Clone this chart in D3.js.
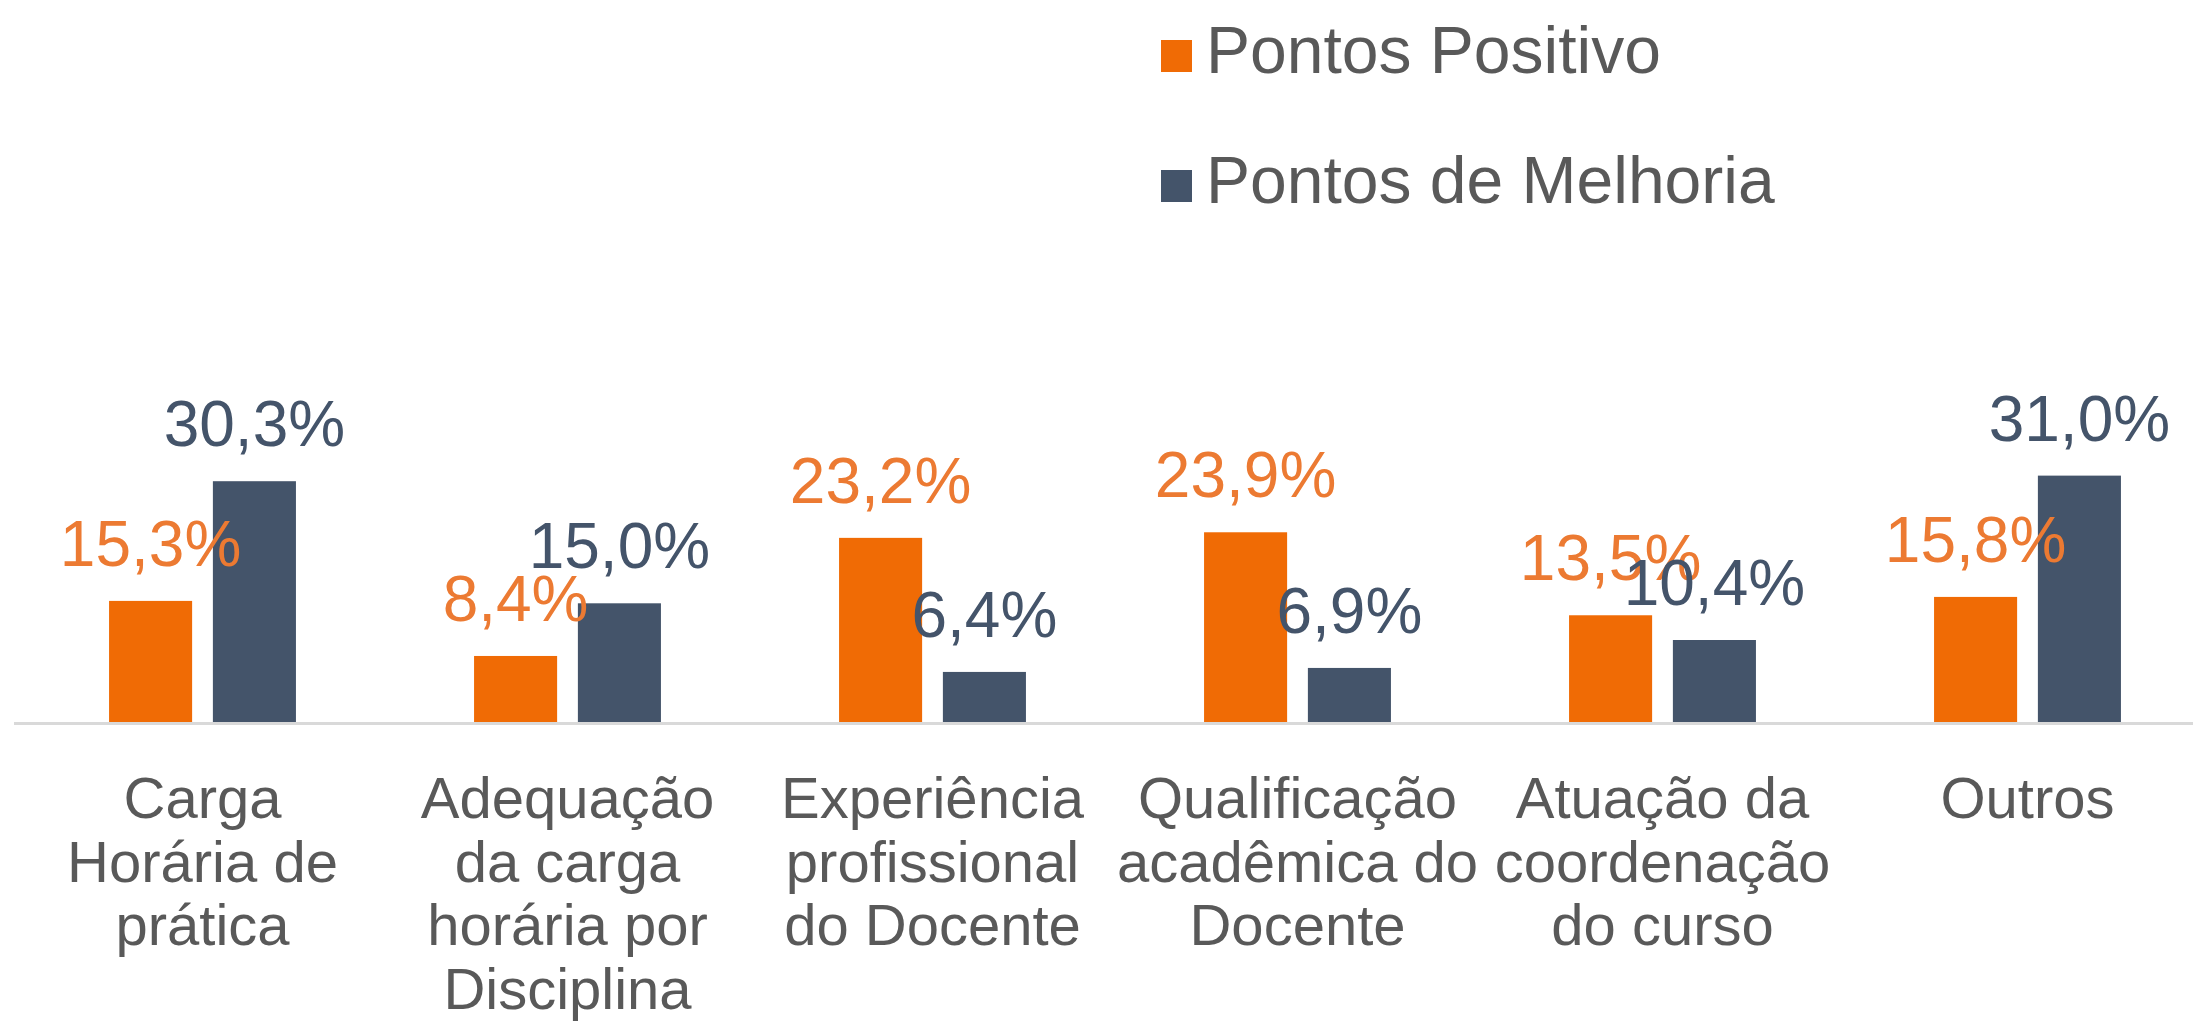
<!DOCTYPE html>
<html>
<head>
<meta charset="utf-8">
<script src="https://cdn.jsdelivr.net/npm/d3@7"></script>
<style>
  body { margin: 0; background: #fff; }
  svg { display: block; font-family: 'Liberation Sans', Arial, sans-serif; }
</style>
</head>
<body>
<svg></svg>
<script>
let SVG = d3.select('svg').attr('width', 2193).attr('height', 1023);

SVG.style('background-color', '#ffffff');

// ---

const CATEGORIES = ['carga', 'adequacao', 'experiencia', 'qualificacao', 'atuacao', 'outros'];
const CATEGORY_LINES = [
  ['Carga', 'Horária de', 'prática'],
  ['Adequação', 'da carga', 'horária por', 'Disciplina'],
  ['Experiência', 'profissional', 'do Docente'],
  ['Qualificação', 'acadêmica do', 'Docente'],
  ['Atuação da', 'coordenação', 'do curso'],
  ['Outros']
];
const SERIES = ['Pontos Positivo', 'Pontos de Melhoria'];
const POSITIVO = [15.3, 8.4, 23.2, 23.9, 13.5, 15.8];
const MELHORIA = [30.3, 15.0, 6.4, 6.9, 10.4, 31.0];

const BAR_COLORS = ['#f06b05', '#44546a'];
const LABEL_COLORS = ['#ec7a32', '#44546a'];

const BASE_Y = 723;

// scales
let x0 = d3
  .scaleBand()
  .domain(CATEGORIES)
  .range([20, 2210])
  .paddingInner(0.488)
  .paddingOuter(0.244);

let x1 = d3
  .scaleBand()
  .domain([0, 1])
  .range([0, x0.bandwidth()])
  .paddingInner(0.2);

let y = d3
  .scaleLinear()
  .domain([0, 35])
  .range([BASE_Y, BASE_Y - 35 * 7.98]);

let rows = CATEGORIES.map((c, i) => ({ cat: c, values: [POSITIVO[i], MELHORIA[i]] }));

// bars
let groups = SVG.append('g')
  .selectAll('g')
  .data(rows)
  .join('g')
  .attr('transform', (d) => `translate(${x0(d.cat)},0)`);

groups
  .selectAll('rect')
  .data((d) => d.values.map((v, s) => ({ v, s })))
  .join('rect')
  .attr('x', (d) => x1(d.s))
  .attr('y', (d) => y(d.v))
  .attr('width', x1.bandwidth())
  .attr('height', (d) => y(0) - y(d.v))
  .attr('fill', (d) => BAR_COLORS[d.s]);

// baseline (category axis without ticks)
let xAxis = d3.axisBottom(x0).tickSize(0).tickFormat('');
let xAxisG = SVG.append('g').attr('transform', `translate(0,${BASE_Y})`);
xAxis(xAxisG);
xAxisG.select('.domain').attr('d', `M14,0.5H2193`).attr('stroke', '#d9d9d9').attr('stroke-width', 3);

// category labels, wrapped
xAxisG
  .selectAll('.tick')
  .data(CATEGORIES)
  .each(function (d, i) {
    let t = d3.select(this).append('text')
      .attr('fill', '#595959')
      .attr('font-size', 58)
      .attr('text-anchor', 'middle');
    CATEGORY_LINES[i].forEach((line, k) => {
      t.append('tspan').attr('x', 0).attr('y', 95 + k * 63.5).text(line);
    });
  });

// data labels on top of everything
let labels = SVG.append('g');
rows.forEach((r) => {
  r.values.forEach((v, s) => {
    labels.append('text')
      .attr('x', x0(r.cat) + x1(s) + x1.bandwidth() / 2)
      .attr('y', y(v) - 35)
      .attr('text-anchor', 'middle')
      .attr('font-size', 64)
      .attr('fill', LABEL_COLORS[s])
      .text(d3.format('.1f')(v).replace('.', ',') + '%');
  });
});

// legend
let legend = SVG.append('g').attr('transform', 'translate(1161,0)');
let legendItems = legend
  .selectAll('g')
  .data(SERIES)
  .join('g')
  .attr('transform', (d, i) => `translate(0,${73 + i * 130})`);

legendItems.append('rect')
  .attr('x', 0)
  .attr('y', -33)
  .attr('width', 31)
  .attr('height', 32)
  .attr('fill', (d, i) => BAR_COLORS[i]);

legendItems.append('text')
  .attr('x', 45)
  .attr('y', 0)
  .attr('font-size', 66)
  .attr('fill', '#595959')
  .text((d) => d);
</script>
</body>
</html>
